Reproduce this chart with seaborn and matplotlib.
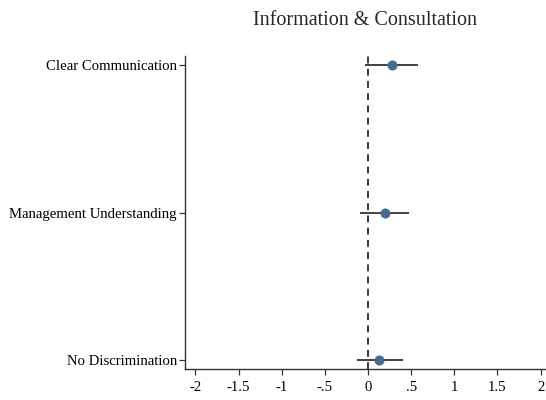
import numpy as np
import matplotlib.pyplot as plt
import seaborn as sns
import pandas as pd

sns.set_style("white")
plt.rcParams['font.family'] = ['Liberation Serif', 'DejaVu Serif']

items = ["Clear Communication", "Management Understanding", "No Discrimination"]
coef = [0.28, 0.20, 0.13]
ci_lo = [-0.03, -0.09, -0.13]
ci_hi = [0.58, 0.47, 0.40]
xticks = [-2, -1.5, -1, -0.5, 0, 0.5, 1, 1.5, 2]
xtick_labels = ["-2", "-1.5", "-1", "-.5", "0", ".5", "1", "1.5", "2"]

data = pd.DataFrame({"item": items, "coef": coef, "lo": ci_lo, "hi": ci_hi})

fig = plt.figure(figsize=[5.46, 4.0], dpi=100)
ax = fig.add_axes([0.339, 0.0775, 0.659, 0.7825])

ax.axvline(0, color='black', ls=(0, (4.5, 3.5)), lw=1.1, zorder=1)
ax.hlines(data["item"], data["lo"], data["hi"], color='#222222', lw=1.2, zorder=2)
sns.scatterplot(data=data, x="coef", y="item", ax=ax, color='#4A6A8A',
                s=45, edgecolor='#4A6A8A', linewidth=0.5, zorder=3)

ax.set_xlim(-2.12, 2.05)
ax.set_ylim(2.061, -0.061)
ax.set_xticks(xticks)
ax.set_xticklabels(xtick_labels)
ax.set_xlabel("")
ax.set_ylabel("")
ax.set_title("Information & Consultation", fontsize=14.5, pad=22)

for s in ["top", "right"]:
    ax.spines[s].set_visible(False)
for s in ["left", "bottom"]:
    ax.spines[s].set_color('#333333')
    ax.spines[s].set_linewidth(1.0)
ax.tick_params(axis='both', direction='out', length=4, width=0.9,
               color='#333333', labelsize=10.6, labelcolor='black',
               left=True, bottom=True)
ax.tick_params(axis='x', pad=4.5)
ax.tick_params(axis='y', pad=2)

fig.savefig("out.png", dpi=100)
